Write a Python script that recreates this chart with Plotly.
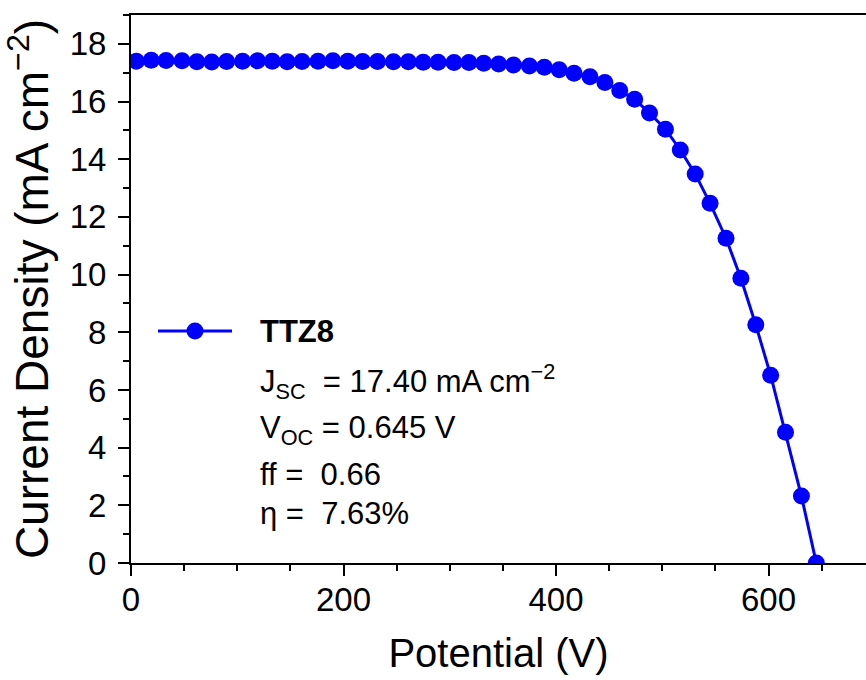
import plotly.graph_objects as go

# ---- data ----
potential = [5, 19, 33, 48, 62, 76, 90, 105, 119, 133, 147, 161, 176, 190, 204, 218,
             232, 247, 261, 275, 289, 304, 318, 332, 346, 360, 375, 389, 403, 417,
             432, 446, 460, 474, 488, 503, 517, 531, 545, 560, 574, 588, 602, 616,
             631, 645]
current_density = [17.40, 17.43, 17.42, 17.41, 17.38, 17.37, 17.39, 17.40, 17.41, 17.40,
                   17.38, 17.39, 17.40, 17.41, 17.40, 17.39, 17.39, 17.38, 17.38, 17.36,
                   17.36, 17.35, 17.35, 17.33, 17.30, 17.27, 17.23, 17.19, 17.10, 16.98,
                   16.86, 16.66, 16.38, 16.08, 15.60, 15.04, 14.32, 13.49, 12.47, 11.26,
                   9.87, 8.26, 6.51, 4.53, 2.32, 0.0]
series_name = "TTZ8"
stats_lines = [
    "J<sub>SC</sub>  = 17.40 mA cm<sup>−2</sup>",
    "V<sub>OC</sub> = 0.645 V",
    "ff =  0.66",
    "η =  7.63%",
]
x_ticks = [0, 200, 400, 600]
y_ticks = [0, 2, 4, 6, 8, 10, 12, 14, 16, 18]

FONT = "Liberation Sans, Arial, sans-serif"
BLUE = "#0000FF"

W, H = 866, 680
ML, MR, MT, MB = 131, 0, 15, 117
plot_w = W - ML - MR
plot_h = H - MT - MB

def px_x(p):
    return (p - ML) / plot_w

def px_y(p):
    return (H - MB - p) / plot_h

fig = go.Figure()
fig.add_trace(go.Scatter(
    x=potential, y=current_density, mode="lines+markers", name=series_name,
    line=dict(color=BLUE, width=3),
    marker=dict(color=BLUE, size=17, symbol="circle"),
    showlegend=False, cliponaxis=True,
))

# legend sample (manual, to match the long line of the reference)
ly = px_y(331)
fig.add_shape(type="line", xref="paper", yref="paper",
              x0=px_x(158), x1=px_x(232), y0=ly, y1=ly,
              line=dict(color=BLUE, width=3))
fig.add_shape(type="circle", xref="paper", yref="paper",
              xsizemode="pixel", ysizemode="pixel",
              xanchor=px_x(195), yanchor=ly,
              x0=-8.5, x1=8.5, y0=-8.5, y1=8.5,
              fillcolor=BLUE, line=dict(color=BLUE, width=0))

tx = px_x(258)
fig.add_annotation(text="<b>%s</b>" % series_name, xref="paper", yref="paper",
                   x=tx, y=px_y(331), xanchor="left", yanchor="middle",
                   showarrow=False, font=dict(family=FONT, size=31, color="black"))
line_centers = [381, 430, 474, 513]
for txt, cy in zip(stats_lines, line_centers):
    fig.add_annotation(text=txt, xref="paper", yref="paper",
                       x=tx, y=px_y(cy), xanchor="left", yanchor="middle",
                       showarrow=False, font=dict(family=FONT, size=31, color="black"))

fig.update_xaxes(
    range=[0, plot_w / 1.0625], tickvals=x_ticks, ticks="outside", ticklen=11,
    tickwidth=2, tickcolor="black", showline=True, linewidth=2, linecolor="black",
    mirror=True, showgrid=False, zeroline=False, automargin=False,
    tickfont=dict(family=FONT, size=33, color="black"),
    minor=dict(dtick=50, ticks="outside", ticklen=6, tickwidth=2, tickcolor="black"),
    title=dict(text="Potential (V)", font=dict(family=FONT, size=40, color="black"),
               standoff=22),
    ticklabelstandoff=-5,
)
fig.update_yaxes(
    range=[0, 19], tickvals=y_ticks, ticks="outside", ticklen=11,
    tickwidth=2, tickcolor="black", showline=True, linewidth=2, linecolor="black",
    showgrid=False, zeroline=False, automargin=False,
    tickfont=dict(family=FONT, size=33, color="black"),
    minor=dict(dtick=1, ticks="outside", ticklen=6, tickwidth=2, tickcolor="black"),
    title=dict(text="Current Density (mA cm<sup>−2</sup>)",
               font=dict(family=FONT, size=46, color="black"), standoff=14),
    ticklabelstandoff=5,
)
fig.update_layout(
    width=W, height=H, margin=dict(l=ML, r=MR, t=MT, b=MB),
    paper_bgcolor="white", plot_bgcolor="white", showlegend=False,
)
fig.write_html("out.html", config={"displayModeBar": False},
               post_script="document.body.style.margin='0';document.body.style.overflow='hidden';")
